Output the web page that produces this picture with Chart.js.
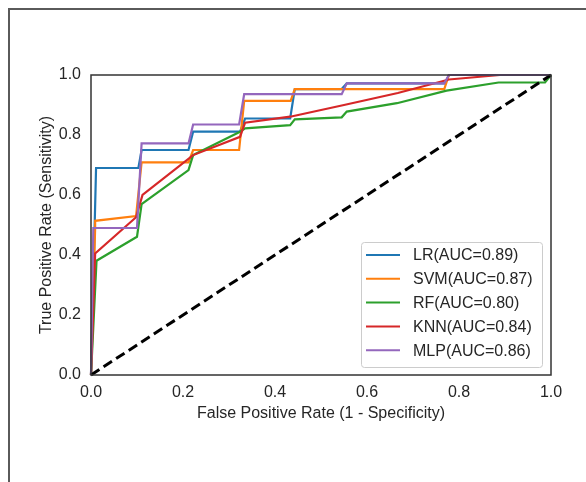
<!DOCTYPE html>
<html><head><meta charset="utf-8">
<script src="https://cdn.jsdelivr.net/npm/chart.js@4/dist/chart.umd.min.js"></script>
<style>html,body{margin:0;padding:0;background:#fff;}#wrap{position:relative;width:586px;height:482px;}</style>
</head><body><div id="wrap"><canvas id="c" width="586" height="482"></canvas></div>
<script>
const tickValues = [0, 0.2, 0.4, 0.6, 0.8, 1.0];
const modelNames = ['LR', 'SVM', 'RF', 'KNN', 'MLP'];
const aucValues = [0.89, 0.87, 0.80, 0.84, 0.86];
const modelColors = ['#1f77b4', '#ff7f0e', '#2ca02c', '#d62728', '#9467bd'];

const lrFpr = [0, 0.011, 0.103, 0.11, 0.212, 0.222, 0.324, 0.335, 0.433, 0.443, 0.545, 0.556, 0.77, 0.778, 1];
const lrTpr = [0, 0.69, 0.69, 0.75, 0.75, 0.811, 0.811, 0.855, 0.855, 0.953, 0.953, 0.972, 0.972, 1.0, 1.0];

const svmFpr = [0, 0.009, 0.009, 0.098, 0.11, 0.212, 0.222, 0.322, 0.333, 0.434, 0.443, 0.768, 0.778, 1];
const svmTpr = [0, 0.49, 0.514, 0.53, 0.709, 0.709, 0.75, 0.75, 0.914, 0.914, 0.953, 0.953, 1.0, 1.0];

const rfFpr = [0, 0.012, 0.1, 0.11, 0.212, 0.222, 0.324, 0.335, 0.433, 0.443, 0.545, 0.556, 0.665, 0.773, 0.886, 0.987, 1];
const rfTpr = [0, 0.381, 0.461, 0.57, 0.683, 0.733, 0.811, 0.822, 0.833, 0.852, 0.859, 0.878, 0.906, 0.948, 0.975, 0.975, 1];

const knnFpr = [0, 0.009, 0.098, 0.112, 0.222, 0.324, 0.335, 0.433, 0.55, 0.667, 0.778, 0.889, 1];
const knnTpr = [0, 0.405, 0.526, 0.60, 0.733, 0.794, 0.841, 0.861, 0.9, 0.94, 0.985, 1.0, 1.0];

const mlpFpr = [0, 0.005, 0.1, 0.11, 0.212, 0.222, 0.322, 0.333, 0.545, 0.556, 0.768, 0.778, 1];
const mlpTpr = [0, 0.49, 0.49, 0.772, 0.772, 0.835, 0.835, 0.936, 0.936, 0.972, 0.972, 1, 1];

const chanceFpr = [0, 1];
const chanceTpr = [0, 1];

const xTitle = 'False Positive Rate (1 - Specificity)';
const yTitle = 'True Positive Rate (Sensitivity)';

const FONT = "'Liberation Sans', Arial, sans-serif";
const TEXT = '#262626';

function pts(xs, ys) { return xs.map((x, i) => ({ x: x, y: ys[i] })); }
const curves = [[lrFpr, lrTpr], [svmFpr, svmTpr], [rfFpr, rfTpr], [knnFpr, knnTpr], [mlpFpr, mlpTpr]];

const datasets = curves.map((c, i) => ({
  label: modelNames[i] + '(AUC=' + aucValues[i].toFixed(2) + ')',
  data: pts(c[0], c[1]),
  borderColor: modelColors[i],
  backgroundColor: modelColors[i],
  borderWidth: 2.2,
  pointRadius: 0,
  showLine: true,
  tension: 0,
  clip: false,
  order: 5 - i
}));
datasets.push({
  label: 'chance',
  data: pts(chanceFpr, chanceTpr),
  borderColor: '#000',
  borderWidth: 3,
  borderDash: [10, 5],
  pointRadius: 0,
  showLine: true,
  clip: false,
  order: 0
});

const framePlugin = {
  id: 'frame',
  beforeDraw(chart) {
    const ctx = chart.ctx;
    ctx.save();
    ctx.fillStyle = '#fff';
    ctx.fillRect(0, 0, chart.width, chart.height);
    ctx.fillStyle = '#5a5a5a';
    ctx.fillRect(8, 8, 2, chart.height - 8);
    ctx.fillRect(8, 8, chart.width - 8, 2);
    ctx.restore();
  },
  afterDatasetsDraw(chart) {
    const a = chart.chartArea, ctx = chart.ctx;
    ctx.save();
    ctx.strokeStyle = '#333';
    ctx.lineWidth = 1.5;
    ctx.strokeRect(a.left, a.top, a.right - a.left, a.bottom - a.top);
    ctx.restore();
  }
};

const legendPlugin = {
  id: 'boxLegend',
  afterDraw(chart) {
    const ctx = chart.ctx, a = chart.chartArea;
    const w = 181, h = 125;
    const x0 = a.right - 9 - w, y0 = a.bottom - 8 - h;
    ctx.save();
    ctx.beginPath();
    if (ctx.roundRect) ctx.roundRect(x0 + 0.5, y0 + 0.5, w, h, 3); else ctx.rect(x0 + 0.5, y0 + 0.5, w, h);
    ctx.fillStyle = 'rgba(255,255,255,0.85)';
    ctx.fill();
    ctx.strokeStyle = '#cccccc';
    ctx.lineWidth = 1;
    ctx.stroke();
    ctx.font = '16px ' + FONT;
    ctx.textBaseline = 'middle';
    ctx.textAlign = 'left';
    modelNames.forEach((n, i) => {
      const y = y0 + 13 + i * 23.8;
      ctx.strokeStyle = modelColors[i];
      ctx.lineWidth = 2;
      ctx.beginPath();
      ctx.moveTo(x0 + 5, y);
      ctx.lineTo(x0 + 39, y);
      ctx.stroke();
      ctx.fillStyle = TEXT;
      ctx.fillText(n + '(AUC=' + aucValues[i].toFixed(2) + ')', x0 + 52, y + 1);
    });
    ctx.restore();
  }
};

Chart.defaults.font.family = FONT;
Chart.defaults.font.size = 16;
Chart.defaults.color = TEXT;

new Chart(document.getElementById('c'), {
  type: 'scatter',
  data: { datasets: datasets },
  options: {
    responsive: false,
    animation: false,
    devicePixelRatio: 1,
    layout: { padding: { left: 0, top: 75, right: 35, bottom: 0 } },
    plugins: { legend: { display: false }, tooltip: { enabled: false } },
    scales: {
      x: {
        type: 'linear', min: 0, max: 1,
        grid: { display: false, drawTicks: false },
        border: { display: false },
        afterBuildTicks: s => { s.ticks = tickValues.map(v => ({ value: v })); },
        afterFit: s => { s.height = 107; },
        ticks: { padding: 8, callback: v => Number(v).toFixed(1), font: { size: 16 }, color: TEXT, maxRotation: 0 },
        title: { display: true, text: xTitle, font: { size: 16 }, color: TEXT, padding: { top: 0, bottom: 59 } }
      },
      y: {
        type: 'linear', min: 0, max: 1,
        grid: { display: false, drawTicks: false },
        border: { display: false },
        afterBuildTicks: s => { s.ticks = tickValues.map(v => ({ value: v })); },
        afterFit: s => { s.width = 91; },
        ticks: { padding: 10, callback: v => Number(v).toFixed(1), font: { size: 16 }, color: TEXT },
        title: { display: true, text: yTitle, font: { size: 16 }, color: TEXT, padding: { top: 37, bottom: 0 } }
      }
    }
  },
  plugins: [framePlugin, legendPlugin]
});
</script>
</body></html>
